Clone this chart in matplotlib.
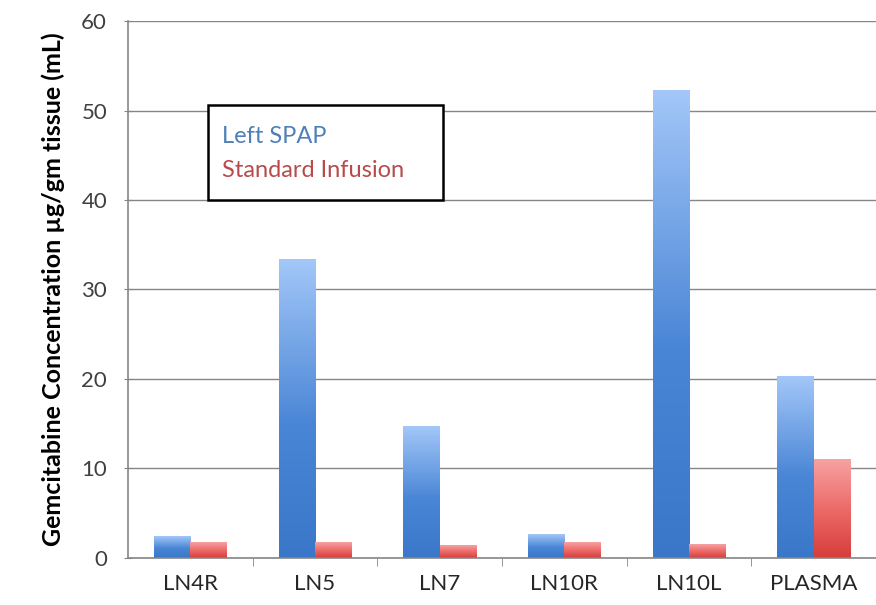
import numpy as np
import matplotlib.pyplot as plt
from matplotlib.colors import LinearSegmentedColormap

# data
categories = ["LN4R", "LN5", "LN7", "LN10R", "LN10L", "PLASMA"]
left_spap = [2.4, 33.4, 14.7, 2.6, 52.3, 20.3]
standard_infusion = [1.7, 1.7, 1.45, 1.7, 1.55, 11.0]

plt.rcParams['font.family'] = ['Lato', 'DejaVu Sans']

fig = plt.figure(figsize=(8.76, 6.05), dpi=100)
ax = fig.add_axes([0.146, 0.078, 0.854, 0.887])

x = np.arange(len(categories))
w = 0.29
blue_bars = ax.bar(x - w / 2, left_spap, w, color="none", edgecolor="none")
red_bars = ax.bar(x + w / 2, standard_infusion, w, color="none", edgecolor="none")

# vertical gradient: light at the top, darker at the bottom
blue_cmap = LinearSegmentedColormap.from_list(
    "b", [(0, "#3a77c8"), (0.45, "#4a86d6"), (1, "#a3c7f8")])
red_cmap = LinearSegmentedColormap.from_list(
    "r", [(0, "#d63d3a"), (0.45, "#ea6664"), (1, "#f7a2a2")])
grad = np.linspace(0, 1, 256).reshape(-1, 1)

for bars, cmap in [(blue_bars, blue_cmap), (red_bars, red_cmap)]:
    for b in bars:
        x0, y0 = b.get_x(), b.get_y()
        ax.imshow(grad, cmap=cmap, origin="lower", aspect="auto",
                  extent=(x0, x0 + b.get_width(), y0, y0 + b.get_height()),
                  zorder=2)

ax.set_xlim(-0.5, len(categories) - 0.5)
ax.set_ylim(0, 60)
ax.set_yticks(range(0, 61, 10))
ax.set_xticks(x)
ax.set_xticklabels(categories, fontsize=16, color="#262626")
ax.set_xticks(np.arange(0.5, len(categories) - 0.5, 1), minor=True)
ax.tick_params(axis="x", which="major", length=0, pad=12)
ax.tick_params(axis="x", which="minor", length=6, color="#868686", direction="out")
ax.tick_params(axis="y", labelsize=16, labelcolor="#404040", length=6,
               color="#868686", direction="inout", pad=12)

ax.grid(axis="y", color="#868686", linewidth=1)
ax.set_axisbelow(True)
for s in ["top", "right"]:
    ax.spines[s].set_visible(False)
for s in ["left", "bottom"]:
    ax.spines[s].set_color("#868686")
    ax.spines[s].set_linewidth(1.2)

ax.set_ylabel("Gemcitabine Concentration µg/gm tissue (mL)", fontsize=18,
              fontweight="bold", labelpad=12)

# legend drawn as a boxed text block
ax.text(0.126, 0.786, "Left SPAP", transform=ax.transAxes, fontsize=17,
        color="#4f7fb8", va="center")
ax.text(0.126, 0.721, "Standard Infusion", transform=ax.transAxes, fontsize=17,
        color="#b84a4c", va="center")
ax.add_patch(plt.Rectangle((0.107, 0.667), 0.314, 0.177, transform=ax.transAxes,
                           facecolor="white", edgecolor="black", linewidth=1.8,
                           zorder=1.5))

plt.savefig("out.png", dpi=100)
